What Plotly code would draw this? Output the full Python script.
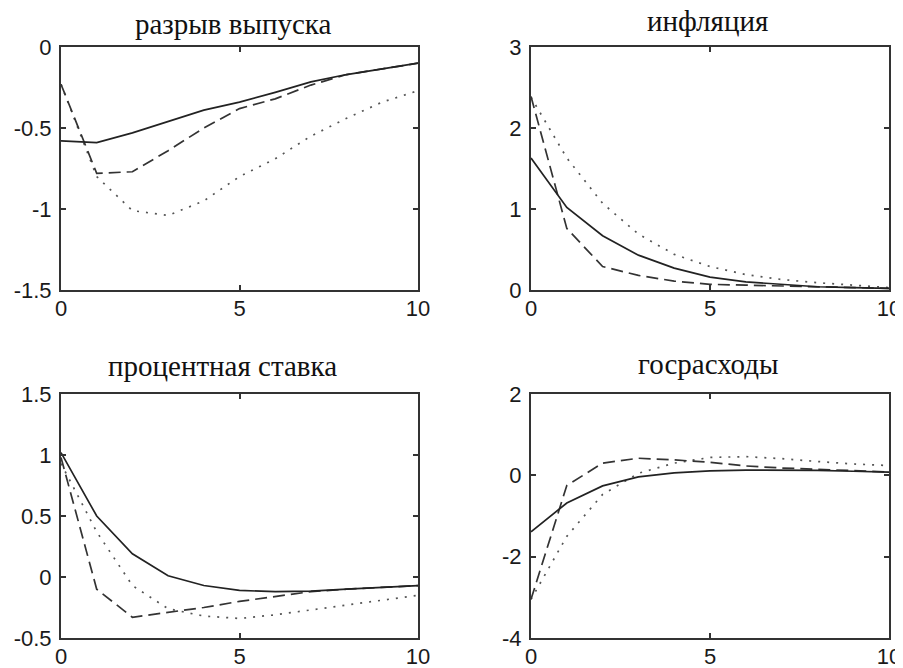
import plotly.graph_objects as go

x = list(range(11))

titles = ["разрыв выпуска", "инфляция", "процентная ставка", "госрасходы"]

# разрыв выпуска
gap_solid = [-0.58, -0.59, -0.53, -0.46, -0.39, -0.34, -0.28, -0.215, -0.17, -0.135, -0.10]
gap_dash = [-0.23, -0.78, -0.77, -0.64, -0.50, -0.38, -0.32, -0.235, -0.17, -0.135, -0.10]
gap_dot = [-0.23, -0.80, -1.01, -1.04, -0.95, -0.80, -0.69, -0.55, -0.44, -0.34, -0.27]

# инфляция
inf_solid = [1.63, 1.02, 0.67, 0.43, 0.27, 0.16, 0.10, 0.07, 0.04, 0.03, 0.02]
inf_dash = [2.39, 0.76, 0.29, 0.18, 0.11, 0.07, 0.06, 0.05, 0.04, 0.03, 0.02]
inf_dot = [2.38, 1.63, 1.07, 0.69, 0.44, 0.29, 0.19, 0.13, 0.09, 0.06, 0.03]

# процентная ставка
rate_solid = [1.02, 0.50, 0.19, 0.01, -0.07, -0.11, -0.12, -0.115, -0.10, -0.085, -0.07]
rate_dash = [0.98, -0.10, -0.33, -0.29, -0.25, -0.20, -0.16, -0.12, -0.10, -0.085, -0.07]
rate_dot = [0.93, 0.37, -0.07, -0.26, -0.32, -0.34, -0.31, -0.27, -0.225, -0.185, -0.15]

# госрасходы
gov_solid = [-1.39, -0.68, -0.26, -0.04, 0.06, 0.11, 0.13, 0.13, 0.12, 0.10, 0.08]
gov_dash = [-3.05, -0.25, 0.30, 0.42, 0.38, 0.32, 0.23, 0.18, 0.15, 0.11, 0.08]
gov_dot = [-3.05, -1.50, -0.47, 0.05, 0.30, 0.44, 0.46, 0.41, 0.34, 0.28, 0.24]

panels = [
    (gap_solid, gap_dash, gap_dot),
    (inf_solid, inf_dash, inf_dot),
    (rate_solid, rate_dash, rate_dot),
    (gov_solid, gov_dash, gov_dot),
]

y_ranges = [[-1.5, 0], [0, 3], [-0.5, 1.5], [-4, 2]]
y_ticks = [
    [-1.5, -1, -0.5, 0],
    [0, 1, 2, 3],
    [-0.5, 0, 0.5, 1, 1.5],
    [-4, -2, 0, 2],
]
y_ticktext = [
    ["-1.5", "-1", "-0.5", "0"],
    ["0", "1", "2", "3"],
    ["-0.5", "0", "0.5", "1", "1.5"],
    ["-4", "-2", "0", "2"],
]
x_ticks = [0, 5, 10]

W, H = 903, 668
OFF = 8  # page body margin
# plot-area boxes in page pixels (left, right, top, bottom)
boxes = [(61, 418, 47, 290), (531, 889, 47, 290), (61, 418, 394, 638), (531, 889, 394, 638)]
title_pos = [(233, 24), (707, 21), (222, 366), (708, 364)]

fig = go.Figure()
for i, (s, d, o) in enumerate(panels):
    xa = "x" if i == 0 else f"x{i+1}"
    ya = "y" if i == 0 else f"y{i+1}"
    fig.add_trace(go.Scatter(x=x, y=o, mode="lines", xaxis=xa, yaxis=ya,
                             line=dict(color="#555555", width=1.7, dash="2px,7px"), showlegend=False))
    fig.add_trace(go.Scatter(x=x, y=d, mode="lines", xaxis=xa, yaxis=ya,
                             line=dict(color="#333333", width=1.7, dash="12px,6px"), showlegend=False))
    fig.add_trace(go.Scatter(x=x, y=s, mode="lines", xaxis=xa, yaxis=ya,
                             line=dict(color="#222222", width=1.7), showlegend=False))

layout = dict(
    width=W, height=H,
    margin=dict(l=0, r=0, t=0, b=0),
    paper_bgcolor="white", plot_bgcolor="white",
    showlegend=False,
)
axis_common = dict(showgrid=False, zeroline=False, showline=True, mirror="ticks",
                   linecolor="#333333", linewidth=2, ticks="inside", ticklen=5,
                   tickcolor="#333333", tickwidth=1.5, automargin=False,
                   tickfont=dict(family="Liberation Sans", size=22, color="#1a1a1a"))
for i, (l, r, t, b) in enumerate(boxes):
    l, r, t, b = l - OFF, r - OFF, t - OFF, b - OFF
    xk = "xaxis" if i == 0 else f"xaxis{i+1}"
    yk = "yaxis" if i == 0 else f"yaxis{i+1}"
    xa = "x" if i == 0 else f"x{i+1}"
    ya = "y" if i == 0 else f"y{i+1}"
    layout[xk] = dict(axis_common, domain=[l / W, r / W], range=[0, 10],
                      tickvals=x_ticks, ticktext=[str(v) for v in x_ticks], anchor=ya,
                      ticklabelstandoff=-2)
    layout[yk] = dict(axis_common, domain=[1 - b / H, 1 - t / H], range=y_ranges[i],
                      tickvals=y_ticks[i], ticktext=y_ticktext[i], anchor=xa,
                      ticklabelstandoff=3)

annotations = []
for (tx, ty), text in zip(title_pos, titles):
    annotations.append(dict(x=(tx - OFF) / W, y=1 - (ty - OFF) / H, xref="paper", yref="paper",
                            text=text, showarrow=False, xanchor="center", yanchor="middle",
                            font=dict(family="Liberation Serif", size=29, color="#111111")))
layout["annotations"] = annotations

fig.update_layout(**layout)
fig.write_html("out.html")
